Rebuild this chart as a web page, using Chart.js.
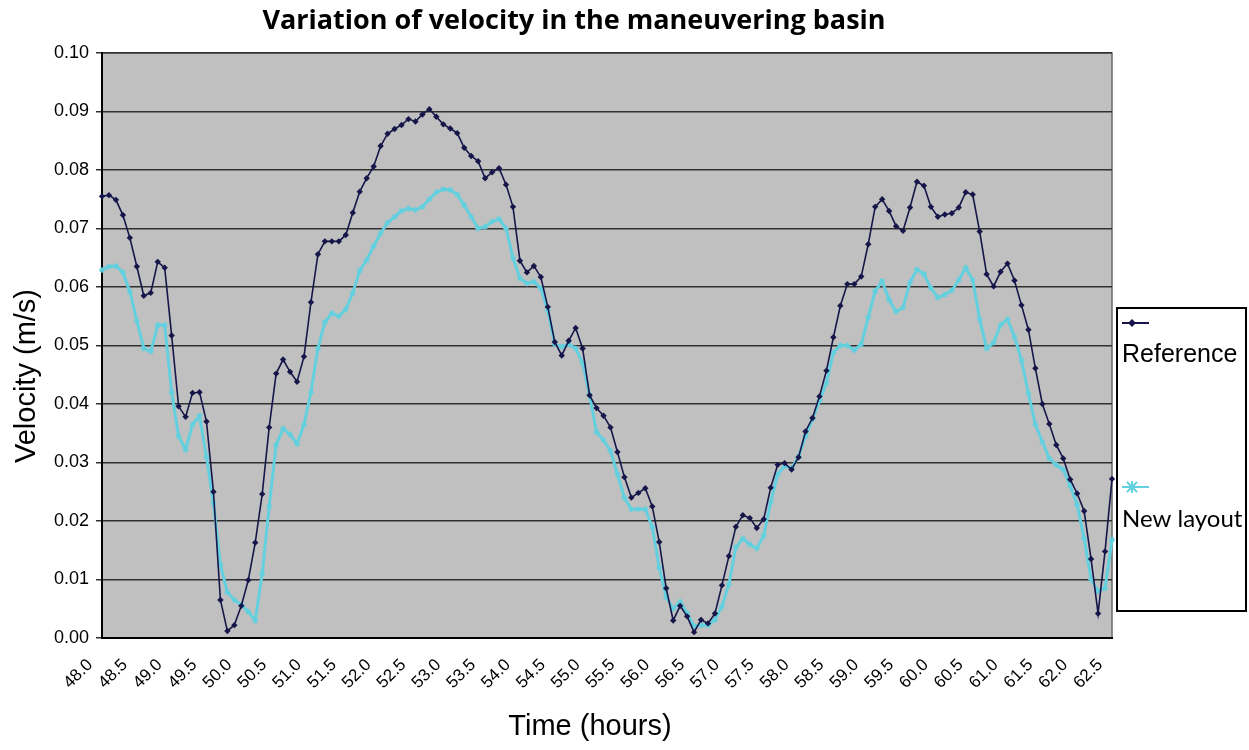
<!DOCTYPE html>
<html lang="en">

<head>
    <meta charset="UTF-8">
    <title>Variation of velocity in the maneuvering basin</title>
    <script src="https://cdn.jsdelivr.net/npm/chart.js"></script>
    <style>
        body { margin: 0; background: #ffffff; }
    </style>
</head>

<body>
    <canvas id="grafico" width="1249" height="750"></canvas>
</body>

</html>

<script>

    // hours from 48.0 to 62.5, one reading every 0.1 h
    const hours = [];
    for (let i = 0; i <= 145; i++) hours.push((48 + i / 10).toFixed(1));

    const xTickLabels = ['48.0', '48.5', '49.0', '49.5', '50.0', '50.5', '51.0', '51.5', '52.0', '52.5',
        '53.0', '53.5', '54.0', '54.5', '55.0', '55.5', '56.0', '56.5', '57.0', '57.5', '58.0', '58.5',
        '59.0', '59.5', '60.0', '60.5', '61.0', '61.5', '62.0', '62.5'];

    const yTickLabels = ['0.00', '0.01', '0.02', '0.03', '0.04', '0.05', '0.06', '0.07', '0.08', '0.09', '0.10'];

    const seriesNames = ['Reference', 'New layout'];

    const reference = [
        0.0755, 0.0757, 0.0749, 0.0723, 0.0684, 0.0635, 0.0585, 0.0590, 0.0643, 0.0633,
        0.0517, 0.0396, 0.0378, 0.0419, 0.0420, 0.0370, 0.0250, 0.0065, 0.0012, 0.0022,
        0.0055, 0.0099, 0.0163, 0.0246, 0.0360, 0.0452, 0.0476, 0.0455, 0.0438, 0.0481,
        0.0574, 0.0656, 0.0678, 0.0678, 0.0678, 0.0689, 0.0727, 0.0763, 0.0786, 0.0806,
        0.0841, 0.0862, 0.0870, 0.0877, 0.0887, 0.0883, 0.0895, 0.0904, 0.0891, 0.0878,
        0.0871, 0.0863, 0.0838, 0.0824, 0.0815, 0.0786, 0.0796, 0.0803, 0.0775, 0.0737,
        0.0645, 0.0625, 0.0636, 0.0617, 0.0566, 0.0506, 0.0483, 0.0508, 0.0530, 0.0495,
        0.0415, 0.0393, 0.0380, 0.0360, 0.0318, 0.0275, 0.0240, 0.0248, 0.0256, 0.0225,
        0.0164, 0.0085, 0.0030, 0.0055, 0.0037, 0.0010, 0.0031, 0.0025, 0.0042, 0.0090,
        0.0140, 0.0190, 0.0210, 0.0205, 0.0188, 0.0203, 0.0257, 0.0296, 0.0299, 0.0288,
        0.0309, 0.0353, 0.0376, 0.0413, 0.0457, 0.0514, 0.0568, 0.0605, 0.0605, 0.0618,
        0.0673, 0.0737, 0.0750, 0.0730, 0.0704, 0.0696, 0.0736, 0.0780, 0.0773, 0.0737,
        0.0720, 0.0724, 0.0726, 0.0736, 0.0762, 0.0758, 0.0695, 0.0622, 0.0601, 0.0626,
        0.0640, 0.0611, 0.0569, 0.0527, 0.0461, 0.0400, 0.0366, 0.0330, 0.0307, 0.0271,
        0.0247, 0.0217, 0.0135, 0.0042, 0.0148, 0.0272
    ];

    const newLayout = [
        0.0629, 0.0635, 0.0636, 0.0625, 0.0592, 0.0542, 0.0495, 0.0490, 0.0535, 0.0535,
        0.0420, 0.0345, 0.0322, 0.0365, 0.0380, 0.0310, 0.0230, 0.0125, 0.0078, 0.0065,
        0.0057, 0.0045, 0.0030, 0.0110, 0.0225, 0.0330, 0.0358, 0.0348, 0.0332, 0.0365,
        0.0420, 0.0495, 0.0540, 0.0555, 0.0550, 0.0562, 0.0590, 0.0628, 0.0646, 0.0670,
        0.0692, 0.0710, 0.0720, 0.0730, 0.0734, 0.0732, 0.0737, 0.0750, 0.0762, 0.0767,
        0.0766, 0.0758, 0.0740, 0.0720, 0.0700, 0.0703, 0.0712, 0.0716, 0.0700, 0.0650,
        0.0615, 0.0606, 0.0609, 0.0598, 0.0560, 0.0502, 0.0498, 0.0502, 0.0495, 0.0470,
        0.0415, 0.0352, 0.0338, 0.0320, 0.0280, 0.0240, 0.0220, 0.0220, 0.0220, 0.0190,
        0.0120, 0.0070, 0.0050, 0.0062, 0.0042, 0.0020, 0.0022, 0.0022, 0.0031, 0.0054,
        0.0092, 0.0155, 0.0170, 0.0160, 0.0153, 0.0175, 0.0232, 0.0280, 0.0294, 0.0290,
        0.0310, 0.0345, 0.0374, 0.0405, 0.0436, 0.0488, 0.0500, 0.0500, 0.0492, 0.0502,
        0.0548, 0.0593, 0.0610, 0.0578, 0.0558, 0.0565, 0.0608, 0.0630, 0.0622, 0.0598,
        0.0582, 0.0587, 0.0594, 0.0612, 0.0633, 0.0612, 0.0545, 0.0495, 0.0505, 0.0535,
        0.0545, 0.0515, 0.0475, 0.0418, 0.0365, 0.0335, 0.0307, 0.0296, 0.0288, 0.0260,
        0.0228, 0.0170, 0.0100, 0.0080, 0.0085, 0.0168
    ];

    const corRef = '#16164a';
    const corNova = '#62d0de';
    const fonteArial = '"Liberation Sans", Arial, sans-serif';

    // gray plot background + frame
    const fundoPlot = {
        id: 'fundoPlot',
        beforeDraw(chart) {
            const { ctx, chartArea: a } = chart;
            ctx.save();
            ctx.fillStyle = '#c0c0c0';
            ctx.fillRect(a.left, a.top, a.right - a.left, a.bottom - a.top);
            ctx.strokeStyle = '#6a6a6a';
            ctx.lineWidth = 1.5;
            ctx.strokeRect(a.left, a.top, a.right - a.left, a.bottom - a.top);
            ctx.restore();
        }
    };

    // titles and the boxed legend on the right
    const tituloLegenda = {
        id: 'tituloLegenda',
        afterDraw(chart) {
            const ctx = chart.ctx;
            ctx.save();
            ctx.fillStyle = '#000000';
            ctx.font = 'bold 27px "Open Sans", Lato, sans-serif';
            ctx.textAlign = 'center';
            ctx.textBaseline = 'middle';
            ctx.fillText('Variation of velocity in the maneuvering basin', 574, 21);

            ctx.font = '29px ' + fonteArial;
            ctx.fillText('Time (hours)', 590, 727);

            ctx.save();
            ctx.translate(27, 376);
            ctx.rotate(-Math.PI / 2);
            ctx.fillText('Velocity (m/s)', 0, 0);
            ctx.restore();

            // legend box
            ctx.fillStyle = '#ffffff';
            ctx.fillRect(1117, 308, 129, 303);
            ctx.strokeStyle = '#000000';
            ctx.lineWidth = 2;
            ctx.strokeRect(1117, 308, 129, 303);

            // Reference sample
            ctx.strokeStyle = corRef;
            ctx.lineWidth = 2;
            ctx.beginPath();
            ctx.moveTo(1122, 323);
            ctx.lineTo(1149, 323);
            ctx.stroke();
            ctx.fillStyle = corRef;
            ctx.beginPath();
            ctx.moveTo(1132, 319);
            ctx.lineTo(1136, 323);
            ctx.lineTo(1132, 327);
            ctx.lineTo(1128, 323);
            ctx.closePath();
            ctx.fill();

            // New layout sample
            ctx.strokeStyle = corNova;
            ctx.lineWidth = 2;
            ctx.beginPath();
            ctx.moveTo(1122, 487);
            ctx.lineTo(1149, 487);
            ctx.stroke();
            ctx.beginPath();
            ctx.moveTo(1127, 482); ctx.lineTo(1137, 492);
            ctx.moveTo(1137, 482); ctx.lineTo(1127, 492);
            ctx.moveTo(1132, 481); ctx.lineTo(1132, 493);
            ctx.stroke();

            ctx.fillStyle = '#000000';
            ctx.textAlign = 'left';
            ctx.textBaseline = 'alphabetic';
            ctx.font = '25px ' + fonteArial;
            ctx.fillText(seriesNames[0], 1122, 362);
            ctx.font = '24px Lato, "Open Sans", sans-serif';
            ctx.fillText(seriesNames[1], 1122, 527);
            ctx.restore();
        }
    };

    let grafico = document.getElementById('grafico');

    var chartVelocidade = new Chart(grafico, {
        type: 'line',
        data: {
            labels: hours,
            datasets: [{
                label: seriesNames[0],
                data: reference,
                borderColor: corRef,
                backgroundColor: corRef,
                borderWidth: 1.6,
                pointStyle: 'rectRot',
                pointRadius: 3.2,
                pointBorderWidth: 0,
                tension: 0,
                order: 1
            },
            {
                label: seriesNames[1],
                data: newLayout,
                borderColor: corNova,
                backgroundColor: corNova,
                borderWidth: 3,
                pointStyle: 'star',
                pointRadius: 3,
                pointBorderWidth: 1.2,
                tension: 0,
                order: 2
            }]
        },
        options: {
            responsive: false,
            animation: false,
            layout: {
                padding: { top: 53, right: 137, left: 0, bottom: 0 }
            },
            plugins: {
                legend: { display: false },
                title: { display: false },
                tooltip: { enabled: false }
            },
            scales: {
                x: {
                    type: 'category',
                    offset: false,
                    afterFit(scale) { scale.height = 112; },
                    grid: { display: false, drawTicks: false },
                    border: { display: true, color: '#000000', width: 2 },
                    ticks: {
                        autoSkip: false,
                        minRotation: 45,
                        maxRotation: 45,
                        padding: 17,
                        labelOffset: -12,
                        color: '#000000',
                        font: { family: fonteArial, size: 17 },
                        callback: function (valor, indice) {
                            const rotulo = hours[indice];
                            return xTickLabels.includes(rotulo) ? rotulo : '';
                        }
                    }
                },
                y: {
                    min: 0,
                    max: 0.1,
                    afterFit(scale) { scale.width = 102; },
                    grid: {
                        color: '#303030',
                        lineWidth: 1.5,
                        drawTicks: true,
                        tickLength: 6
                    },
                    border: { display: true, color: '#000000', width: 2 },
                    ticks: {
                        stepSize: 0.01,
                        padding: 7,
                        color: '#000000',
                        font: { family: fonteArial, size: 18 },
                        callback: function (valor) {
                            return yTickLabels[Math.round(valor * 100)];
                        }
                    }
                }
            }
        },
        plugins: [fundoPlot, tituloLegenda]
    });

</script>
